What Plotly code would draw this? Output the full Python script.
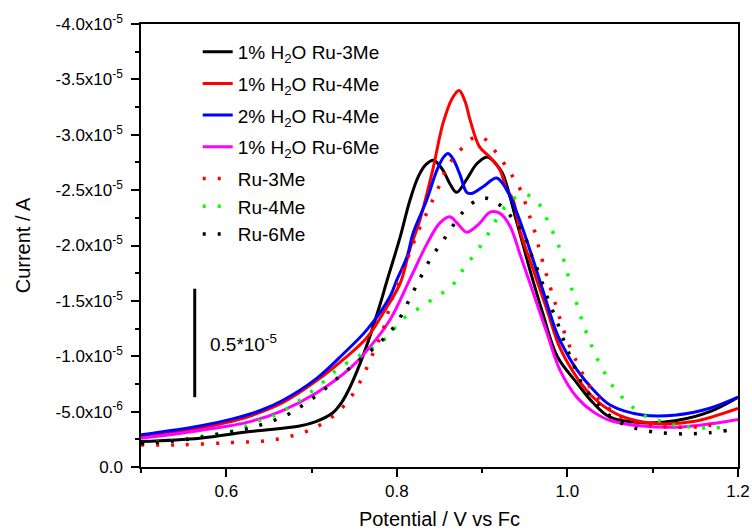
import plotly.graph_objects as go
import numpy as np

SCALE = 1e-5  # values below are |current| in units of 1e-5 A (plotted as negative current)

bk_v = [0.500,0.569,0.628,0.686,0.705,0.725,0.735,0.745,0.763,0.780,0.788,0.804,0.815,0.825,0.834,0.843,0.854,0.862,0.870,0.882,0.894,0.906,0.917,0.924,0.941,0.956,0.971,0.988,1.011,1.030,1.050,1.088,1.128,1.167,1.200]
bk_i = [0.23,0.26,0.32,0.37,0.41,0.49,0.58,0.72,1.06,1.46,1.67,2.08,2.40,2.62,2.73,2.77,2.68,2.56,2.48,2.60,2.74,2.80,2.73,2.65,2.20,1.78,1.39,1.00,0.76,0.58,0.45,0.40,0.42,0.50,0.63]

rd_v = [0.500,0.569,0.605,0.628,0.666,0.706,0.737,0.765,0.784,0.804,0.815,0.827,0.842,0.854,0.865,0.873,0.880,0.886,0.897,0.909,0.921,0.929,0.936,0.944,0.960,0.976,0.991,1.011,1.030,1.050,1.070,1.108,1.147,1.200]
rd_i = [0.27,0.35,0.41,0.46,0.58,0.78,0.97,1.17,1.39,1.66,1.96,2.23,2.68,3.10,3.33,3.40,3.30,3.13,2.89,2.80,2.68,2.50,2.42,2.14,1.78,1.42,1.08,0.81,0.63,0.51,0.44,0.39,0.41,0.53]

bl_v = [0.500,0.569,0.605,0.640,0.666,0.706,0.737,0.765,0.792,0.800,0.812,0.819,0.835,0.847,0.855,0.860,0.866,0.874,0.882,0.888,0.901,0.917,0.929,0.941,0.956,0.971,0.988,0.999,1.011,1.030,1.050,1.088,1.128,1.167,1.200]
bl_i = [0.29,0.37,0.43,0.51,0.60,0.80,1.02,1.24,1.54,1.69,1.90,2.11,2.41,2.68,2.80,2.83,2.78,2.64,2.48,2.47,2.53,2.61,2.50,2.29,1.96,1.60,1.20,1.03,0.88,0.70,0.56,0.47,0.47,0.53,0.63]

mg_v = [0.500,0.569,0.628,0.666,0.706,0.745,0.768,0.792,0.815,0.835,0.850,0.862,0.871,0.882,0.897,0.909,0.921,0.933,0.944,0.960,0.976,0.991,1.011,1.030,1.050,1.088,1.128,1.167,1.200]
mg_i = [0.26,0.33,0.41,0.51,0.67,0.89,1.08,1.33,1.69,2.01,2.20,2.26,2.20,2.12,2.20,2.30,2.29,2.17,1.93,1.57,1.21,0.88,0.63,0.50,0.42,0.37,0.36,0.39,0.43]

r3_v = [0.500,0.546,0.604,0.651,0.690,0.710,0.730,0.745,0.757,0.774,0.783,0.795,0.812,0.824,0.833,0.842,0.851,0.859,0.872,0.889,0.900,0.908,0.924,0.936,0.947,0.953,0.960,0.970,0.976,0.982,0.988,0.994,1.001,1.009,1.030,1.047,1.065,1.105,1.144,1.164,1.182]
r3_i = [0.20,0.20,0.22,0.24,0.31,0.38,0.49,0.62,0.77,1.06,1.22,1.53,1.87,2.11,2.26,2.41,2.56,2.71,2.84,2.97,2.98,2.92,2.76,2.62,2.47,2.32,2.17,1.88,1.72,1.57,1.42,1.27,1.12,0.98,0.68,0.54,0.44,0.37,0.36,0.37,0.40]

g4_v = [0.500,0.538,0.574,0.614,0.632,0.652,0.672,0.691,0.711,0.730,0.750,0.768,0.788,0.806,0.825,0.845,0.865,0.879,0.893,0.906,0.917,0.930,0.941,0.951,0.961,0.969,0.978,0.987,0.994,1.000,1.005,1.012,1.018,1.025,1.033,1.043,1.055,1.072,1.091,1.111,1.130,1.149,1.169,1.188]
g4_i = [0.21,0.24,0.28,0.34,0.40,0.45,0.53,0.63,0.75,0.88,0.98,1.06,1.17,1.33,1.43,1.53,1.64,1.80,1.94,2.09,2.24,2.38,2.44,2.46,2.42,2.35,2.20,2.05,1.91,1.75,1.61,1.45,1.30,1.16,1.01,0.86,0.71,0.57,0.46,0.41,0.37,0.36,0.35,0.37]

k6_v = [0.500,0.515,0.555,0.594,0.632,0.671,0.690,0.710,0.730,0.749,0.768,0.786,0.800,0.819,0.829,0.841,0.853,0.866,0.882,0.901,0.920,0.937,0.950,0.957,0.965,0.972,0.979,0.987,0.994,1.001,1.009,1.018,1.032,1.052,1.071,1.091,1.108,1.128,1.147,1.167,1.187]
k6_i = [0.21,0.22,0.25,0.30,0.36,0.47,0.56,0.67,0.80,0.92,1.04,1.17,1.30,1.58,1.73,1.90,2.03,2.18,2.34,2.43,2.37,2.23,2.08,1.93,1.78,1.63,1.48,1.33,1.18,1.04,0.89,0.74,0.60,0.45,0.37,0.33,0.31,0.30,0.30,0.31,0.33]

series = [
    ("1% H<sub>2</sub>O Ru-3Me", bk_v, bk_i, "#000000", "solid", "g1"),
    ("1% H<sub>2</sub>O Ru-4Me", rd_v, rd_i, "#ff0000", "solid", "g2"),
    ("2% H<sub>2</sub>O Ru-4Me", bl_v, bl_i, "#0000ff", "solid", "g3"),
    ("1% H<sub>2</sub>O Ru-6Me", mg_v, mg_i, "#ff00ff", "solid", "g4"),
    ("Ru-3Me", r3_v, r3_i, "#ff0000", "dot", "g5"),
    ("Ru-4Me", g4_v, g4_i, "#00ff00", "dot", "g5"),
    ("Ru-6Me", k6_v, k6_i, "#000000", "dot", "g5"),
]

y_ticks = [0, -0.5e-5, -1.0e-5, -1.5e-5, -2.0e-5, -2.5e-5, -3.0e-5, -3.5e-5, -4.0e-5]
y_ticktext = ["0.0", "-5.0x10<sup>-6</sup>", "-1.0x10<sup>-5</sup>", "-1.5x10<sup>-5</sup>",
              "-2.0x10<sup>-5</sup>", "-2.5x10<sup>-5</sup>", "-3.0x10<sup>-5</sup>",
              "-3.5x10<sup>-5</sup>", "-4.0x10<sup>-5</sup>"]
y_minor = [-0.25e-5, -0.75e-5, -1.25e-5, -1.75e-5, -2.25e-5, -2.75e-5, -3.25e-5, -3.75e-5]
x_ticks = [0.6, 0.8, 1.0, 1.2]
x_ticktext = ["0.6", "0.8", "1.0", "1.2"]
x_minor = [0.5, 0.7, 0.9, 1.1]

scalebar_x = 0.563
scalebar_y = [-0.63e-5, -1.61e-5]
scalebar_label = "0.5*10<sup>-5</sup>"

FONT = "Liberation Sans, Arial, sans-serif"

fig = go.Figure()
for name, v, i, color, dash, grp in series:
    cur = -np.array(i) * SCALE
    if dash == "dot":
        line = dict(color=color, width=3.5, dash="3px,12px", shape="spline", smoothing=1.0)
    else:
        line = dict(color=color, width=3, shape="spline", smoothing=1.0)
    fig.add_trace(go.Scatter(x=v, y=cur, mode="lines", name=name, legendgroup=grp, line=line))

fig.add_shape(type="line", xref="x", yref="y", x0=scalebar_x, x1=scalebar_x,
              y0=scalebar_y[0], y1=scalebar_y[1], line=dict(color="black", width=3))
fig.add_annotation(x=scalebar_x + 0.016, y=(scalebar_y[0] + scalebar_y[1]) / 2, xref="x", yref="y",
                   text=scalebar_label, showarrow=False, xanchor="left", yanchor="middle",
                   font=dict(size=19, color="black", family=FONT))

fig.update_layout(
    width=752, height=531,
    margin=dict(l=141, r=14, t=24, b=64, autoexpand=False),
    paper_bgcolor="white", plot_bgcolor="white",
    font=dict(family=FONT, color="black"),
    showlegend=True,
    legend=dict(x=0.095, y=0.98, xanchor="left", yanchor="top",
                font=dict(size=19, family=FONT), bgcolor="rgba(0,0,0,0)",
                tracegroupgap=4, itemwidth=30, groupclick="toggleitem"),
    xaxis=dict(range=[0.5, 1.2], tickmode="array", tickvals=x_ticks, ticktext=x_ticktext,
               ticks="outside", ticklen=8, tickwidth=1.5, tickcolor="black",
               minor=dict(tickvals=x_minor, ticks="outside", ticklen=4, tickwidth=1.5, tickcolor="black"),
               showline=True, linecolor="black", linewidth=1.5, mirror=True,
               showgrid=False, zeroline=False, automargin=False,
               tickfont=dict(size=17, family=FONT),
               title=dict(text="Potential / V vs Fc", font=dict(size=20, family=FONT), standoff=12)),
    yaxis=dict(range=[0, -4e-5], tickmode="array", tickvals=y_ticks, ticktext=y_ticktext,
               ticks="outside", ticklen=8, tickwidth=1.5, tickcolor="black",
               minor=dict(tickvals=y_minor, ticks="outside", ticklen=4, tickwidth=1.5, tickcolor="black"),
               showline=True, linecolor="black", linewidth=1.5, mirror=True,
               showgrid=False, zeroline=False, automargin=False, ticklabelstandoff=5,
               tickfont=dict(size=17, family=FONT),
               title=dict(text="Current / A", font=dict(size=20, family=FONT), standoff=20)),
)

fig.write_html("out.html", config={"displayModeBar": False},
               post_script="document.body.style.margin='0';document.body.style.padding='0';")
